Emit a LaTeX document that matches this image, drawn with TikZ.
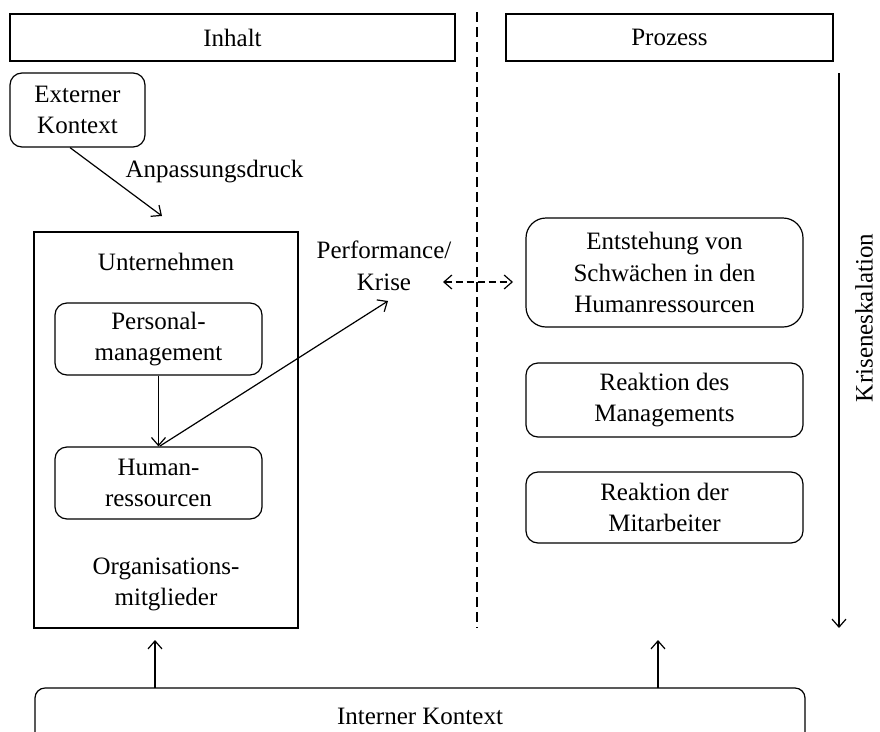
\documentclass[tikz,border=0pt]{standalone}
\usepackage{fontspec}
\setmainfont{Liberation Serif}
\usetikzlibrary{arrows.meta}
\begin{document}
\begin{tikzpicture}[x=1pt,y=-1pt,
  every node/.style={font=\fontsize{25}{31.5}\selectfont, align=center, inner sep=0pt},
  box/.style={draw, line width=1.2pt},
  rbox/.style={draw, line width=1.2pt, rounded corners=12pt},
  arr/.style={line width=1.2pt, -{Straight Barb[length=8pt,width=14pt,line width=1.2pt]}},
  darr/.style={line width=1.2pt, dash pattern=on 7pt off 4pt, {Straight Barb[length=8pt,width=14pt,line width=1.2pt]}-{Straight Barb[length=8pt,width=14pt,line width=1.2pt]}},
  divider/.style={line width=1.2pt, dash pattern=on 10pt off 5pt}
]
\useasboundingbox (0,0) rectangle (880,731);
\fill[white] (0,0) rectangle (880,731);

% headers
\node[box, minimum width=445pt, minimum height=47pt] (inh) at (232.5,37.5) {Inhalt};
\node[box, minimum width=327pt, minimum height=47pt] (proz) at (669.5,37.5) {Prozess};

% divider
\coordinate (dtop) at (477,12);
\coordinate (dbot) at (477,628);
\draw[divider] (dtop) -- (dbot);

% left side
\node[rbox, minimum width=135pt, minimum height=74pt] (ext) at (77.5,110) {Externer\\Kontext};
\node (anp) at (214.5,172) {Anpassungsdruck};
\node[box, minimum width=264pt, minimum height=396pt] (unt) at (166,430) {};
\node (untl) at (166,262) {Unternehmen};
\node[rbox, minimum width=207pt, minimum height=72pt] (pm) at (158.5,339) {Personal-\\management};
\node[rbox, minimum width=207pt, minimum height=72pt] (hr) at (158.5,483) {Human-\\ressourcen};
\node (org) at (166,584.5) {Organisations-\\mitglieder};
\node (perf) at (384,266) {Performance/\\Krise};

\coordinate (extout) at ([xshift=-7.5pt]ext.south);
\coordinate (untin) at (162,216);
\draw[arr] (extout) -- (untin);
\draw[arr] (pm.south) -- (hr.north);
\coordinate (hrout) at (160,446);
\coordinate (perfin) at (388,301);
\draw[arr] (hrout) -- (perfin);
\coordinate (dl) at (443,282);
\coordinate (dr) at (513,282);
\draw[darr] (dl) -- (dr);

% right side
\node[draw, line width=1.2pt, rounded corners=20pt, minimum width=277pt, minimum height=109pt] (ent) at (664.5,272.5) {Entstehung von\\Schwächen in den\\Humanressourcen};
\node[rbox, minimum width=277pt, minimum height=74pt] (rm) at (664.5,400) {Reaktion des\\Managements};
\node[rbox, minimum width=277pt, minimum height=71pt] (ra) at (664.5,507.5) {Reaktion der\\Mitarbeiter};

\coordinate (ktop) at (839,73);
\coordinate (kbot) at (839,628);
\draw[arr] (ktop) -- (kbot);
\node[rotate=90] (kl) at (864,318) {Kriseneskalation};

% bottom
\begin{scope}
\clip (0,0) rectangle (880,731);
\node[draw, line width=1.2pt, rounded corners=10pt, minimum width=770pt, minimum height=60pt] (ik) at (420,718) {\raisebox{4pt}{Interner Kontext}};
\end{scope}
\coordinate (ikl) at (155,688);
\coordinate (ikr) at (658,688);
\coordinate (ul) at (155,640);
\coordinate (ur) at (658,640);
\draw[arr] (ikl) -- (ul);
\draw[arr] (ikr) -- (ur);
\end{tikzpicture}
\end{document}
